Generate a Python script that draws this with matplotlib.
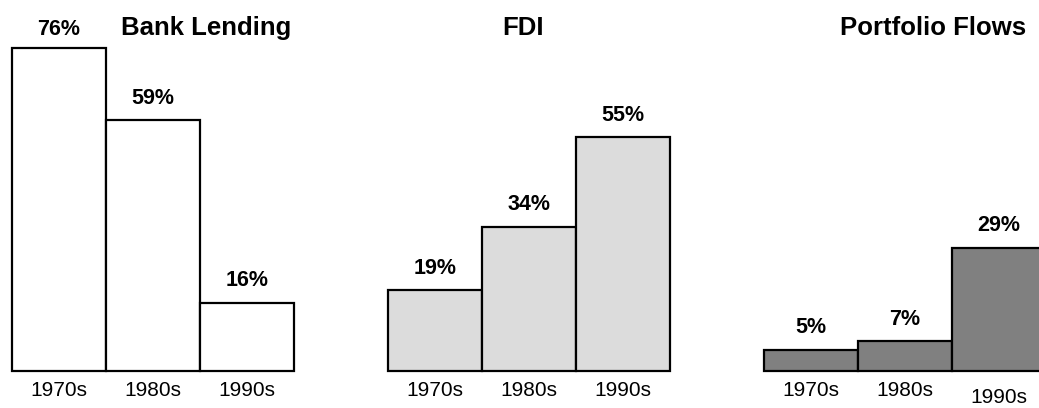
import numpy as np
import matplotlib.pyplot as plt

plt.rcParams['font.family'] = ['Liberation Sans', 'DejaVu Sans']

# ------------------------------------------------------------
# Data
# ------------------------------------------------------------
groups = ['Bank Lending', 'FDI', 'Portfolio Flows']
decades = ['1970s', '1980s', '1990s']
bank_lending = [76, 59, 16]
fdi = [19, 34, 55]
portfolio = [5, 7, 29]
group_colors = ['#ffffff', '#dcdcdc', '#808080']

# ------------------------------------------------------------
# Plot
# ------------------------------------------------------------
fig = plt.figure(figsize=(10.39, 4.08), dpi=100)
ax = fig.add_axes([0, 0, 1, 1])
ax.set_xlim(-0.128, 10.926)
ax.set_ylim(-8.7, 87.3)
ax.axis('off')

title_x = [2.06, 5.44, 9.80]
for g, (name, vals) in enumerate(zip(groups, [bank_lending, fdi, portfolio])):
    start = g * 4
    x = np.arange(start, start + len(vals))
    ax.bar(x, vals, width=1.0, align='edge', color=group_colors[g],
           edgecolor='black', linewidth=1.6, clip_on=False)
    for i, v in enumerate(vals):
        off = 4.3 if v > 70 else 5.2
        ax.text(x[i] + 0.5, v + off, '%d%%' % v, ha='center', va='center',
                fontsize=15.5, fontweight='bold')
        # last tick label in the last group sits lower
        ty = -4.6 if not (g == 2 and i == 2) else -6.3
        ax.text(x[i] + 0.5, ty, decades[i], ha='center', va='center', fontsize=15)
    ax.text(title_x[g], 80.7, name, ha='center', va='center',
            fontsize=18.5, fontweight='bold')

fig.savefig('out.png', dpi=100)
